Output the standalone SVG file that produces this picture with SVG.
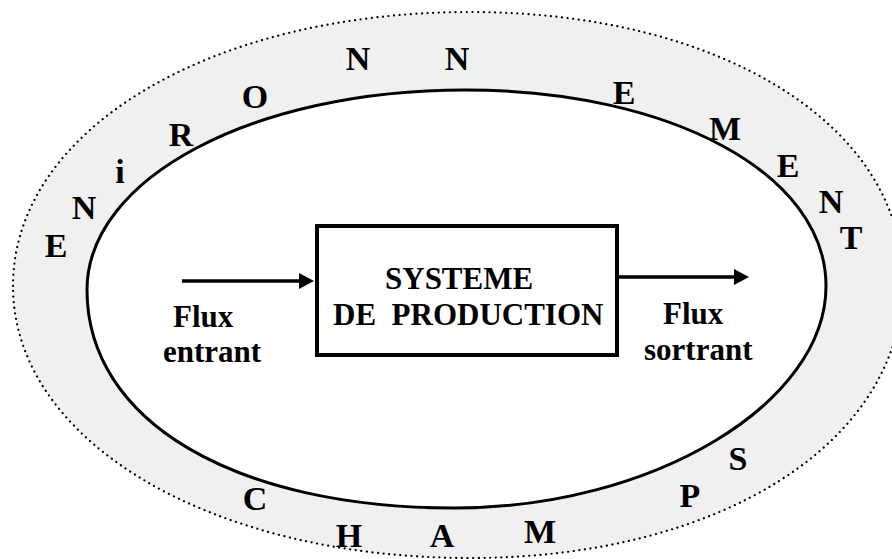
<svg xmlns="http://www.w3.org/2000/svg" width="892" height="559" viewBox="0 0 892 559">
  <style>
    .t { font-family: "Liberation Serif", "Times New Roman", serif; font-weight: bold; fill: #000; }
    .ring { font-size: 34px; text-anchor: middle; }
    .lbl { font-size: 31px; }
    .conn { stroke: #000; stroke-width: 3.5; fill: none; }
  </style>
  <defs>
    <marker id="ah" markerWidth="16" markerHeight="16" refX="3" refY="8" orient="auto" markerUnits="userSpaceOnUse">
      <path d="M0,0 L15,8 L0,16 Z" fill="#000"/>
    </marker>
  </defs>
  <rect x="0" y="0" width="892" height="559" fill="#fff"/>
  <g id="environnement">
    <path d="M13,286 C13,130 210,12 470,12 C721,12 903,125 903,282 C903,442 721,558 470,558 C210,558 13,441 13,286 Z" fill="#f0f0f0" stroke="#000" stroke-width="2.2" stroke-linecap="round" stroke-dasharray="0.1 5.5"/>
  </g>
  <g id="champs">
    <path d="M87,290 C87,178 253,90 465,90 C671,90 826,174 826,286 C826,404 652,508 455,508 C234,508 87,421 87,290 Z" fill="#fff" stroke="#000" stroke-width="3"/>
  </g>
  <g id="ring-letters" class="t ring">
    <text x="56" y="257">E</text>
    <text x="84" y="219">N</text>
    <text x="120" y="183">i</text>
    <text x="181" y="146">R</text>
    <text x="255" y="108">O</text>
    <text x="358" y="70">N</text>
    <text x="457" y="70">N</text>
    <text x="624" y="104">E</text>
    <text x="725" y="140">M</text>
    <text x="788" y="177">E</text>
    <text x="831" y="213">N</text>
    <text x="851" y="249">T</text>
    <text x="255" y="510">C</text>
    <text x="349" y="547">H</text>
    <text x="442" y="547">A</text>
    <text x="540" y="543">M</text>
    <text x="690" y="507">P</text>
    <text x="738" y="470">S</text>
  </g>
  <g id="systeme">
    <rect x="317" y="226" width="300" height="129" fill="#fff" stroke="#000" stroke-width="4"/>
    <text class="t lbl" x="385" y="289">SYSTEME</text>
    <text class="t lbl" x="333" y="325" xml:space="preserve">DE  PRODUCTION</text>
  </g>
  <g id="flux-entrant" class="t lbl">
    <text x="173" y="327">Flux</text>
    <text x="163" y="362">entrant</text>
  </g>
  <g id="flux-sortrant" class="t lbl">
    <text x="663" y="324">Flux</text>
    <text x="644" y="360">sortrant</text>
  </g>
  <g id="connectors">
    <line class="conn" x1="182" y1="281" x2="302" y2="281" marker-end="url(#ah)"/>
    <line class="conn" x1="619" y1="277" x2="737" y2="277" marker-end="url(#ah)"/>
  </g>
</svg>
